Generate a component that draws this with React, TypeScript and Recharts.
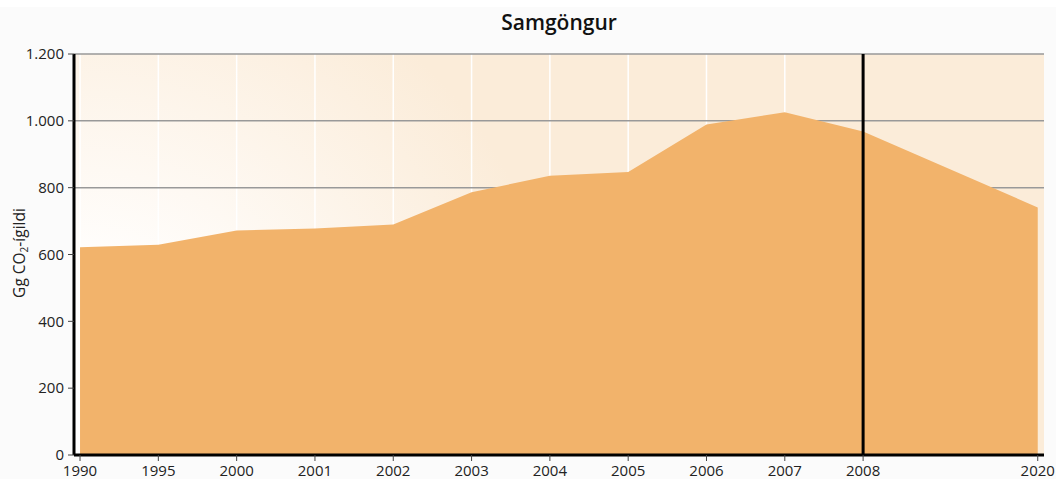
import { Area, AreaChart, CartesianGrid, Label, ReferenceLine, XAxis, YAxis } from "recharts";

// years shown on the x axis, and where each one sits (category slot, 2020 is set apart)
const years = ["1990", "1995", "2000", "2001", "2002", "2003", "2004", "2005", "2006", "2007", "2008", "2020"];
const slots = [0, 1, 2, 3, 4, 5, 6, 7, 8, 9, 10, 12.23];
// Gg CO2-ígildi
const emissions = [622, 629, 672, 678, 690, 786, 836, 847, 989, 1026, 968, 741];
const yTicks = [0, 200, 400, 600, 800, 1000, 1200];

const data = years.map((year, i) => ({ year, slot: slots[i], value: emissions[i] }));

const FONT = "'Open Sans', sans-serif";

const fmt = (v: number) => v.toString().replace(/\B(?=(\d{3})+(?!\d))/g, ".");

function YLabel() {
  return (
    <text
      transform="translate(25, 253) rotate(-90)"
      textAnchor="middle"
      fontFamily={FONT}
      fontSize={15.5}
      fill="#222"
    >
      Gg CO
      <tspan fontSize={10} dy={3}>2</tspan>
      <tspan dy={-3}>-ígildi</tspan>
    </text>
  );
}

export default function App() {
  return (
    <div style={{ position: "fixed", left: 0, top: 0, width: 1056, height: 479, background: "#fff" }}>
      <div style={{ position: "absolute", left: 0, top: 7, width: 1056, height: 472, background: "#fbfbfb" }} />
      <div
        style={{
          position: "absolute",
          left: 74,
          top: 8,
          width: 970,
          textAlign: "center",
          fontFamily: FONT,
          fontWeight: 600,
          fontSize: 21,
          color: "#111",
        }}
      >
        Samgöngur
      </div>
      <div style={{ position: "absolute", left: 0, top: 0 }}>
        <AreaChart width={1056} height={479} data={data} margin={{ top: 54, right: 12, bottom: 0, left: 0 }}>
          <defs>
            <radialGradient id="bgGlow" gradientUnits="userSpaceOnUse" cx={74} cy={420} r={500}>
              <stop offset="0%" stopColor="#ffffff" />
              <stop offset="35%" stopColor="#fffdfb" />
              <stop offset="100%" stopColor="#fbecd9" />
            </radialGradient>
          </defs>
          {/* background + white vertical lines */}
          <CartesianGrid
            fill="url(#bgGlow)"
            fillOpacity={1}
            horizontal={false}
            stroke="#ffffff"
            strokeWidth={1.5}
            verticalValues={slots.slice(0, 11)}
          />
          {/* grey horizontal lines (the lower ones sit under the area anyway) */}
          <CartesianGrid vertical={false} stroke="#999" strokeWidth={1.5} horizontalValues={yTicks.slice(4)} />
          <XAxis
            type="number"
            dataKey="slot"
            domain={[-0.077, 12.31]}
            ticks={slots}
            interval={0}
            tickFormatter={(v: number) => years[slots.indexOf(v)]}
            height={24}
            axisLine={{ stroke: "#000", strokeWidth: 3 }}
            tickLine={{ stroke: "#444" }}
            tickSize={6}
            tick={{ fill: "#222", fontSize: 15, fontFamily: FONT }}
            tickMargin={4}
          />
          <YAxis
            type="number"
            domain={[0, 1200]}
            ticks={yTicks}
            interval={0}
            width={74}
            tickFormatter={fmt}
            axisLine={{ stroke: "#000", strokeWidth: 3 }}
            tickLine={{ stroke: "#444" }}
            tickSize={6}
            tick={{ fill: "#222", fontSize: 15, fontFamily: FONT }}
            tickMargin={4}
          >
            <Label content={<YLabel />} />
          </YAxis>
          <Area
            type="linear"
            dataKey="value"
            stroke="none"
            fill="#f2b36b"
            fillOpacity={1}
            isAnimationActive={false}
            dot={false}
            activeDot={false}
          />
          <ReferenceLine x={10} stroke="#000" strokeWidth={3} />
        </AreaChart>
      </div>
    </div>
  );
}
